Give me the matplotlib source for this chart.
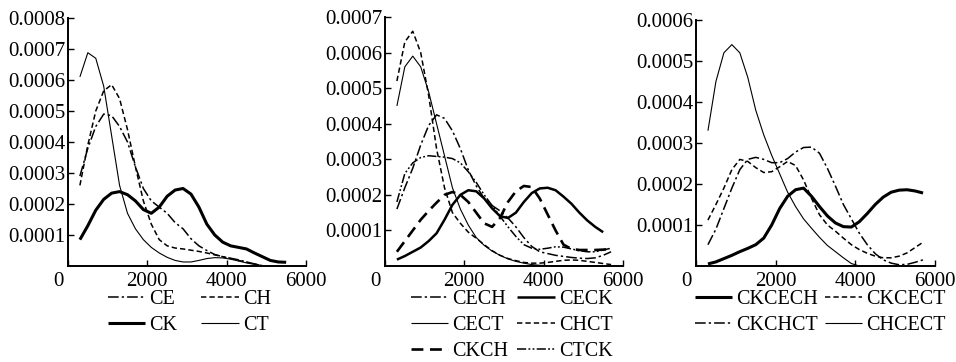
import numpy as np
import matplotlib
matplotlib.use("Agg")
import matplotlib.pyplot as plt
from matplotlib.ticker import FixedLocator, FixedFormatter
import matplotlib.transforms as mtransforms

nan = np.nan

# ---------------- data ----------------
x_grid = [300, 500, 700, 900, 1100, 1300, 1500, 1700, 1900, 2100, 2300, 2500, 2700,
          2900, 3100, 3300, 3500, 3700, 3900, 4100, 4300, 4500, 4700, 4900, 5100,
          5300, 5500, 5700]

# panel 1
CE = [2.9e-4, 3.8e-4, 4.5e-4, 4.9e-4, 4.85e-4, 4.5e-4, 4.0e-4, 3.2e-4, 2.5e-4, 2.1e-4,
      1.9e-4, 1.7e-4, 1.4e-4, 1.2e-4, 0.88e-4, 0.65e-4, 0.5e-4, 0.37e-4, 0.3e-4, 0.25e-4,
      0.2e-4, 0.13e-4, 0.07e-4, 0.01e-4, nan, nan, nan, nan]
CH = [2.6e-4, 3.9e-4, 5.0e-4, 5.65e-4, 5.85e-4, 5.4e-4, 4.4e-4, 3.2e-4, 2.1e-4, 1.35e-4,
      0.85e-4, 0.65e-4, 0.58e-4, 0.55e-4, 0.51e-4, 0.47e-4, 0.42e-4, 0.36e-4, 0.3e-4, 0.24e-4,
      0.18e-4, 0.12e-4, 0.06e-4, 0.01e-4, nan, nan, nan, nan]
CK = [0.85e-4, 1.3e-4, 1.8e-4, 2.15e-4, 2.35e-4, 2.4e-4, 2.3e-4, 2.1e-4, 1.82e-4, 1.7e-4,
      1.9e-4, 2.25e-4, 2.45e-4, 2.5e-4, 2.32e-4, 1.9e-4, 1.35e-4, 1.0e-4, 0.77e-4, 0.65e-4,
      0.6e-4, 0.55e-4, 0.42e-4, 0.3e-4, 0.18e-4, 0.13e-4, 0.12e-4, nan]
CT = [6.1e-4, 6.88e-4, 6.7e-4, 5.8e-4, 4.2e-4, 2.6e-4, 1.7e-4, 1.2e-4, 0.85e-4, 0.6e-4,
      0.42e-4, 0.28e-4, 0.18e-4, 0.13e-4, 0.13e-4, 0.18e-4, 0.24e-4, 0.27e-4, 0.26e-4, 0.22e-4,
      0.16e-4, 0.1e-4, 0.05e-4, 0.01e-4, nan, nan, nan, nan]

# panel 2
CECH = [1.6e-4, 2.2e-4, 2.75e-4, 3.4e-4, 3.95e-4, 4.25e-4, 4.15e-4, 3.8e-4, 3.3e-4, 2.7e-4,
        2.25e-4, 1.9e-4, 1.7e-4, 1.55e-4, 1.35e-4, 1.1e-4, 0.8e-4, 0.55e-4, 0.4e-4, 0.35e-4,
        0.3e-4, 0.27e-4, 0.24e-4, 0.22e-4, 0.21e-4, 0.23e-4, 0.3e-4, 0.4e-4]
CECK = [0.18e-4, 0.28e-4, 0.4e-4, 0.52e-4, 0.7e-4, 0.92e-4, 1.3e-4, 1.72e-4, 2.0e-4, 2.13e-4,
        2.1e-4, 1.9e-4, 1.62e-4, 1.4e-4, 1.35e-4, 1.5e-4, 1.8e-4, 2.05e-4, 2.18e-4, 2.2e-4,
        2.13e-4, 1.95e-4, 1.75e-4, 1.5e-4, 1.28e-4, 1.1e-4, 0.95e-4, nan]
CECT = [4.5e-4, 5.6e-4, 5.9e-4, 5.6e-4, 4.9e-4, 4.0e-4, 3.1e-4, 2.2e-4, 1.6e-4, 1.15e-4,
        0.8e-4, 0.58e-4, 0.42e-4, 0.3e-4, 0.2e-4, 0.13e-4, 0.08e-4, 0.04e-4, 0.02e-4, 0.01e-4,
        0.01e-4, 0.01e-4, 0.01e-4, 0.01e-4, 0.01e-4, 0.01e-4, 0.0, 0.0]
CHCT = [5.2e-4, 6.3e-4, 6.6e-4, 6.0e-4, 4.8e-4, 3.3e-4, 2.2e-4, 1.5e-4, 1.2e-4, 0.95e-4,
        0.78e-4, 0.6e-4, 0.43e-4, 0.3e-4, 0.21e-4, 0.15e-4, 0.1e-4, 0.08e-4, 0.08e-4, 0.1e-4,
        0.13e-4, 0.16e-4, 0.17e-4, 0.16e-4, 0.13e-4, 0.1e-4, 0.07e-4, 0.04e-4]
CKCH = [0.4e-4, 0.7e-4, 1.0e-4, 1.3e-4, 1.55e-4, 1.78e-4, 2.0e-4, 2.08e-4, 2.0e-4, 1.8e-4,
        1.5e-4, 1.2e-4, 1.1e-4, 1.35e-4, 1.8e-4, 2.1e-4, 2.25e-4, 2.22e-4, 1.9e-4, 1.45e-4,
        1.0e-4, 0.6e-4, 0.48e-4, 0.45e-4, 0.45e-4, 0.45e-4, 0.46e-4, 0.48e-4]
CTCK = [1.8e-4, 2.6e-4, 2.9e-4, 3.05e-4, 3.1e-4, 3.08e-4, 3.06e-4, 3.02e-4, 2.9e-4, 2.65e-4,
        2.35e-4, 2.0e-4, 1.7e-4, 1.4e-4, 1.1e-4, 0.83e-4, 0.6e-4, 0.5e-4, 0.47e-4, 0.5e-4,
        0.54e-4, 0.53e-4, 0.48e-4, 0.43e-4, 0.4e-4, 0.4e-4, 0.45e-4, 0.5e-4]

# panel 3
CKCECH = [0.05e-4, 0.1e-4, 0.18e-4, 0.26e-4, 0.35e-4, 0.43e-4, 0.52e-4, 0.68e-4, 1.0e-4, 1.4e-4,
          1.7e-4, 1.86e-4, 1.9e-4, 1.7e-4, 1.45e-4, 1.22e-4, 1.05e-4, 0.96e-4, 0.95e-4, 1.08e-4,
          1.28e-4, 1.5e-4, 1.68e-4, 1.8e-4, 1.85e-4, 1.86e-4, 1.83e-4, 1.78e-4]
CKCECT = [1.12e-4, 1.5e-4, 1.9e-4, 2.35e-4, 2.6e-4, 2.55e-4, 2.4e-4, 2.28e-4, 2.3e-4, 2.42e-4,
          2.55e-4, 2.45e-4, 2.1e-4, 1.65e-4, 1.25e-4, 1.0e-4, 0.85e-4, 0.68e-4, 0.52e-4, 0.4e-4,
          0.31e-4, 0.24e-4, 0.2e-4, 0.2e-4, 0.24e-4, 0.32e-4, 0.45e-4, 0.58e-4]
CKCHCT = [0.52e-4, 0.9e-4, 1.4e-4, 1.9e-4, 2.35e-4, 2.6e-4, 2.65e-4, 2.6e-4, 2.52e-4, 2.52e-4,
          2.62e-4, 2.78e-4, 2.89e-4, 2.9e-4, 2.75e-4, 2.38e-4, 1.95e-4, 1.5e-4, 1.15e-4, 0.8e-4,
          0.52e-4, 0.3e-4, 0.15e-4, 0.07e-4, 0.03e-4, 0.04e-4, 0.09e-4, 0.15e-4]
CHCECT = [3.3e-4, 4.5e-4, 5.2e-4, 5.4e-4, 5.2e-4, 4.6e-4, 3.8e-4, 3.2e-4, 2.7e-4, 2.25e-4,
          1.8e-4, 1.45e-4, 1.15e-4, 0.92e-4, 0.7e-4, 0.5e-4, 0.35e-4, 0.2e-4, 0.06e-4, 0.0,
          nan, nan, nan, nan, nan, nan, nan, nan]

x_ticks = [0, 2000, 4000, 6000]
x_tick_labels = ["0", "2000", "4000", "6000"]
y_ticks_1 = [1e-4, 2e-4, 3e-4, 4e-4, 5e-4, 6e-4, 7e-4, 8e-4]
y_ticks_2 = [1e-4, 2e-4, 3e-4, 4e-4, 5e-4, 6e-4, 7e-4]
y_ticks_3 = [1e-4, 2e-4, 3e-4, 4e-4, 5e-4, 6e-4]

# ---------------- styles ----------------
THIN = 0.8
MED = 1.1
THICK = 2.2
sty = {
    "CE": dict(lw=MED, dashes=(7, 2, 1.5, 2)),
    "CH": dict(lw=MED, dashes=(3.5, 2)),
    "CK": dict(lw=THICK, ls="-"),
    "CT": dict(lw=THIN, ls="-"),
    "CECH": dict(lw=MED, dashes=(7, 2, 1.5, 2)),
    "CECK": dict(lw=1.8, ls="-"),
    "CECT": dict(lw=THIN, ls="-"),
    "CHCT": dict(lw=MED, dashes=(3.5, 2)),
    "CKCH": dict(lw=1.9, dashes=(4.5, 2.5)),
    "CTCK": dict(lw=MED, dashes=(6, 1.5, 1.2, 1.5, 1.2, 1.5)),
    "CKCECH": dict(lw=THICK, ls="-"),
    "CKCECT": dict(lw=MED, dashes=(3.5, 2)),
    "CKCHCT": dict(lw=MED, dashes=(7, 2, 1.5, 2)),
    "CHCECT": dict(lw=THIN, ls="-"),
}

plt.rcParams["font.family"] = ["Liberation Serif", "DejaVu Serif"]
plt.rcParams["font.size"] = 14

W, H = 956, 362
fig = plt.figure(figsize=(W / 100, H / 100), dpi=100)

panels = [
    dict(rect=(68, 306, 18), ymax=8e-4, yt=y_ticks_1,
         series=[("CE", CE), ("CH", CH), ("CK", CK), ("CT", CT)],
         leg_x=108, colsp=1.2),
    dict(rect=(385, 623, 17), ymax=7e-4, yt=y_ticks_2,
         series=[("CECH", CECH), ("CECK", CECK), ("CECT", CECT), ("CHCT", CHCT),
                 ("CKCH", CKCH), ("CTCK", CTCK)],
         leg_x=411, colsp=0.45),
    dict(rect=(696, 935, 20), ymax=6e-4, yt=y_ticks_3,
         series=[("CKCECH", CKCECH), ("CKCECT", CKCECT), ("CKCHCT", CKCHCT),
                 ("CHCECT", CHCECT)],
         leg_x=695, colsp=0.35),
]

bottom_px = 266
for p in panels:
    l, r, t = p["rect"]
    ax = fig.add_axes([l / W, 1 - bottom_px / H, (r - l) / W, (bottom_px - t) / H])
    handles = []
    for name, ys in p["series"]:
        ln, = ax.plot(x_grid, ys, color="black", label=name, solid_capstyle="butt",
                      **sty[name])
        handles.append(ln)
    ax.set_xlim(0, 6000)
    ax.set_ylim(0, p["ymax"])
    ax.spines["top"].set_visible(False)
    ax.spines["right"].set_visible(False)
    for s in ("left", "bottom"):
        ax.spines[s].set_linewidth(1.4)
    ax.xaxis.set_major_locator(FixedLocator(x_ticks))
    ax.xaxis.set_major_formatter(FixedFormatter(x_tick_labels))
    ax.yaxis.set_major_locator(FixedLocator(p["yt"]))
    ax.yaxis.set_major_formatter(FixedFormatter(["%.4f" % v for v in p["yt"]]))
    ax.tick_params(direction="in", length=4, width=1.0, labelsize=15)
    ax.tick_params(axis="x", pad=4)
    ax.tick_params(axis="y", pad=2)
    lab0 = ax.get_xticklabels()[0]
    lab0.set_transform(lab0.get_transform() +
                       mtransforms.ScaledTranslation(-10 / 100, 0, fig.dpi_scale_trans))
    # legend entries run row by row (2 columns)
    order = handles[0::2] + handles[1::2]
    ax.legend(handles=order, loc="upper left",
              bbox_to_anchor=(p["leg_x"] / W, 1 - 290 / H),
              bbox_transform=fig.transFigure, ncol=2, frameon=False,
              fontsize=14.5, handlelength=1.85, handletextpad=0.2,
              columnspacing=p["colsp"], labelspacing=0.33, borderpad=0,
              borderaxespad=0)

fig.savefig("out.png", dpi=100)
